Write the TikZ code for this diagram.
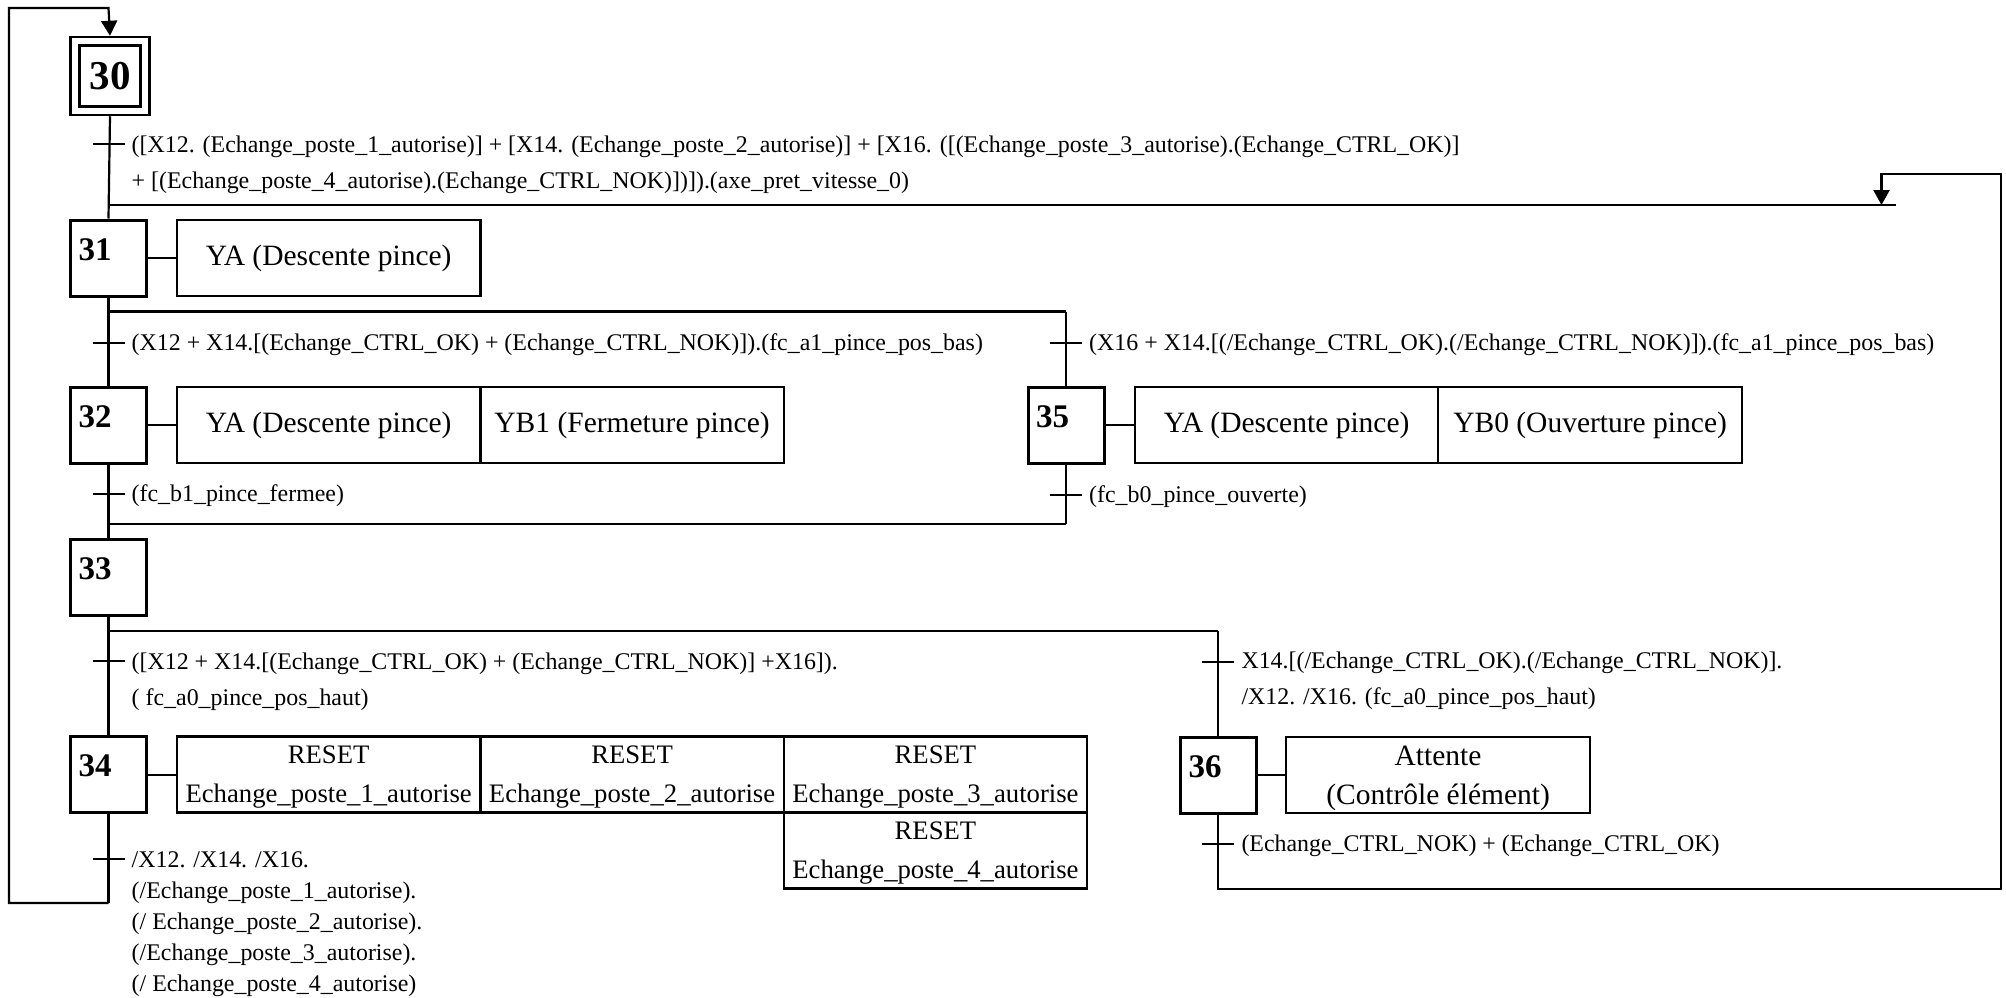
\documentclass[tikz,border=0pt]{standalone}
\usepackage{fontspec}
\setmainfont{Liberation Serif}
\usetikzlibrary{arrows.meta}
\begin{document}
\begin{tikzpicture}[x=1pt,y=-1pt,
  stepbox/.style={draw, line width=3pt, minimum width=76pt, minimum height=76pt, inner sep=0pt},
  actbox/.style={draw, line width=2.2pt, minimum width=303.5pt, minimum height=76pt, inner sep=0pt, align=center, font=\fontsize{29.5}{39}\selectfont},
  twoline/.style={text depth=0pt},
  resetbox/.style={actbox, twoline, font=\fontsize{26.7}{39}\selectfont},
  steplabel/.style={anchor=base west, inner sep=0pt, font=\fontsize{33}{33}\selectfont\bfseries},
  trtext/.style={anchor=west, inner sep=0pt, align=left, font=\fontsize{23.9}{36}\selectfont},
  link/.style={line width=2pt},
  tick/.style={line width=2pt},
  flow/.style={line width=2.2pt},
  branch/.style={line width=2.8pt},
  arr/.style={-{Triangle[length=15pt,width=16pt]}}
]
\useasboundingbox (0,0) rectangle (2006,997);

% ---- steps
\node[draw, line width=2.5pt, minimum width=79pt, minimum height=78pt, inner sep=0pt] (s30) at (110,76) {};
\node[draw, line width=3pt, minimum width=61pt, minimum height=61pt, inner sep=0pt, font=\fontsize{41}{41}\selectfont\bfseries] (s30i) at (110,76) {30};
\node[stepbox] (s31) at (108.5,258) {};
\node[stepbox] (s32) at (108.5,425) {};
\node[stepbox] (s33) at (108.5,577) {};
\node[stepbox] (s34) at (108.5,774.5) {};
\node[stepbox] (s35) at (1066,425) {};
\node[stepbox] (s36) at (1218.3,775) {};

\node[steplabel] (l31) at (78.5,260) {31};
\node[steplabel] (l32) at (78.5,427) {32};
\node[steplabel] (l33) at (78.5,579) {33};
\node[steplabel] (l34) at (78.5,776.5) {34};
\node[steplabel] (l35) at (1036,427) {35};
\node[steplabel] (l36) at (1188.3,777) {36};

% ---- actions
\node[actbox] (a31) at (328.65,258) {YA (Descente pince)};
\node[actbox] (a32a) at (328.65,425) {YA (Descente pince)};
\node[actbox] (a32b) at (632.05,425) {YB1 (Fermeture pince)};
\node[actbox] (a35a) at (1286.6,425) {YA (Descente pince)};
\node[actbox] (a35b) at (1590.1,425) {YB0 (Ouverture pince)};
\node[resetbox] (a34a) at (328.65,774.5) {RESET\\Echange\_poste\_1\_autorise};
\node[resetbox] (a34b) at (632.05,774.5) {RESET\\Echange\_poste\_2\_autorise};
\node[resetbox] (a34c) at (935.45,774.5) {RESET\\Echange\_poste\_3\_autorise};
\node[resetbox] (a34d) at (935.45,850.5) {RESET\\Echange\_poste\_4\_autorise};
\node[actbox, twoline] (a36) at (1438.1,775) {Attente\\(Contrôle élément)};

\draw[link] (s31.east) -- (a31.west);
\draw[link] (s32.east) -- (a32a.west);
\draw[link] (s35.east) -- (a35a.west);
\draw[link] (s34.east) -- (a34a.west);
\draw[link] (s36.east) -- (a36.west);

% ---- coordinates
\coordinate (lt) at (108.5,8);
\coordinate (lc) at (9,8);
\coordinate (lb) at (9,903);
\coordinate (l34) at (108.5,903);
\coordinate (j31) at (108.5,205);
\coordinate (jend) at (1896,205);
\coordinate (ja) at (1881.5,205);
\coordinate (jt) at (1881.5,174);
\coordinate (jr) at (2001,174);
\coordinate (jb) at (2001,888.6);
\coordinate (j36) at (1218.3,888.6);
\coordinate (d31l) at (108.5,311.7);
\coordinate (d31r) at (1066,311.7);
\coordinate (c33l) at (108.5,524);
\coordinate (c33r) at (1066,524);
\coordinate (d33l) at (108.5,631);
\coordinate (d33r) at (1218.3,631);

% ---- connectors
\draw[flow, arr] (l34) -- (lb) -- (lc) -- (lt) -- (s30.north);
\draw[flow] (s34.south) -- (l34);
\draw[flow] (s30.south) -- (s31.north);
\draw[branch] (j31) -- (jend);
\draw[flow, arr] (s36.south) -- (j36) -- (jb) -- (jr) -- (jt) -- (ja);
\draw[flow] (s31.south) -- (d31l);
\draw[branch] (d31l) -- (d31r);
\draw[flow] (d31l) -- (s32.north);
\draw[flow] (d31r) -- (s35.north);
\draw[flow] (s32.south) -- (c33l);
\draw[flow] (s35.south) -- (c33r);
\draw[branch] (c33l) -- (c33r);
\draw[flow] (c33l) -- (s33.north);
\draw[flow] (s33.south) -- (d33l);
\draw[branch] (d33l) -- (d33r);
\draw[flow] (d33l) -- (s34.north);
\draw[flow] (d33r) -- (s36.north);

% ---- transitions
\coordinate (t30) at (108.5,144);
\coordinate (t31a) at (108.5,343);
\coordinate (t31b) at (1066,343);
\coordinate (t32) at (108.5,494);
\coordinate (t35) at (1066,494.5);
\coordinate (t33a) at (108.5,661);
\coordinate (t33b) at (1218.3,661.5);
\coordinate (t34) at (108.5,859.3);
\coordinate (t36) at (1218.3,844);

\foreach \t in {t30,t31a,t31b,t32,t35,t33a,t33b,t34,t36}
  \draw[tick] ([xshift=-16pt]\t) -- ([xshift=16pt]\t);

\node[trtext] (x30) at ([xshift=23pt,yshift=-20.5pt]t30) {([X12. (Echange\_poste\_1\_autorise)] + [X14. (Echange\_poste\_2\_autorise)] + [X16. ([(Echange\_poste\_3\_autorise).(Echange\_CTRL\_OK)]\\+ [(Echange\_poste\_4\_autorise).(Echange\_CTRL\_NOK)])]).(axe\_pret\_vitesse\_0)};
\node[trtext] (x31a) at ([xshift=23pt,yshift=-2pt]t31a) {(X12 + X14.[(Echange\_CTRL\_OK) + (Echange\_CTRL\_NOK)]).(fc\_a1\_pince\_pos\_bas)};
\node[trtext] (x31b) at ([xshift=23pt,yshift=-2pt]t31b) {(X16 + X14.[(/Echange\_CTRL\_OK).(/Echange\_CTRL\_NOK)]).(fc\_a1\_pince\_pos\_bas)};
\node[trtext] (x32) at ([xshift=23pt,yshift=-2pt]t32) {(fc\_b1\_pince\_fermee)};
\node[trtext] (x35) at ([xshift=23pt,yshift=-2pt]t35) {(fc\_b0\_pince\_ouverte)};
\node[trtext] (x33a) at ([xshift=23pt,yshift=-20.5pt]t33a) {([X12 + X14.[(Echange\_CTRL\_OK) + (Echange\_CTRL\_NOK)] +X16]).\\( fc\_a0\_pince\_pos\_haut)};
\node[trtext] (x33b) at ([xshift=23pt,yshift=-19.5pt]t33b) {X14.[(/Echange\_CTRL\_OK).(/Echange\_CTRL\_NOK)].\\/X12. /X16. (fc\_a0\_pince\_pos\_haut)};
\node[trtext, font=\fontsize{23.9}{31}\selectfont] (x34) at ([xshift=23pt,yshift=-64.5pt]t34) {/X12. /X14. /X16.\\(/Echange\_poste\_1\_autorise).\\(/ Echange\_poste\_2\_autorise).\\(/Echange\_poste\_3\_autorise).\\(/ Echange\_poste\_4\_autorise)};
\node[trtext] (x36) at ([xshift=23pt,yshift=-2pt]t36) {(Echange\_CTRL\_NOK) + (Echange\_CTRL\_OK)};
\end{tikzpicture}
\end{document}
